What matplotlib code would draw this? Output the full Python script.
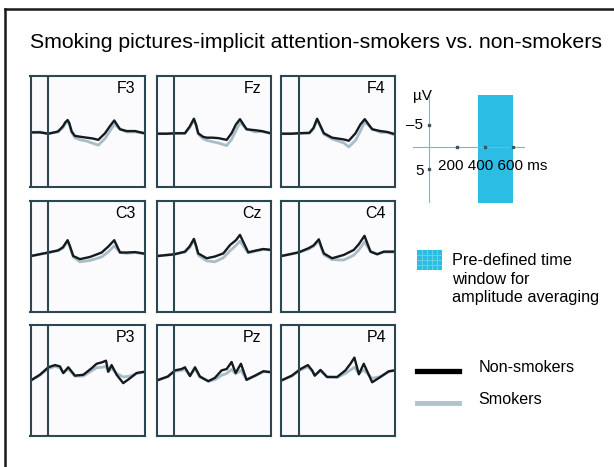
import matplotlib.pyplot as plt
from matplotlib.lines import Line2D
from matplotlib.patches import Rectangle

plt.rcParams['font.family'] = ['Liberation Sans', 'DejaVu Sans']

# ERP data, time in ms, amplitude in microvolts (negative plotted up)
f3_times = [-125, -60, 0, 70, 105, 122, 138, 150, 167, 190, 230, 275, 320, 357, 405, 440, 471, 512, 560, 620, 687]
f3_non = [-0.2, -0.2, 0.1, -0.4, -1.6, -2.5, -3.0, -2.3, -0.4, 0.6, 0.8, 1.0, 1.2, 1.5, 0.0, -1.6, -2.9, -0.9, -0.5, -0.5, 0.0]
f3_smk = [-0.2, -0.3, 0.1, -0.3, -1.3, -2.2, -2.7, -2.0, -0.2, 1.0, 1.5, 1.8, 2.3, 2.7, 1.2, -0.5, -2.0, -1.0, -0.3, -0.3, 0.0]

fz_times = [-125, -50, 0, 76, 110, 140, 155, 171, 205, 231, 270, 314, 374, 409, 440, 469, 516, 576, 624, 687]
fz_non = [0.1, 0.1, 0.0, 0.0, -1.5, -3.3, -2.0, 0.0, 0.8, 1.0, 1.0, 1.1, 1.5, 0.0, -2.0, -3.2, -0.9, -0.7, -0.5, 0.0]
fz_smk = [0.1, 0.1, 0.0, 0.0, -1.3, -3.0, -1.8, 0.2, 1.2, 1.6, 1.9, 2.2, 2.8, 1.4, -0.6, -2.4, -1.0, -0.3, -0.4, 0.0]

f4_times = [-125, -50, 0, 76, 105, 131, 150, 179, 238, 321, 357, 405, 440, 471, 524, 583, 631, 687]
f4_non = [0.1, 0.1, 0.0, -0.1, -1.2, -3.3, -2.0, 0.0, 1.0, 1.4, 1.7, 0.0, -2.0, -3.2, -0.9, -0.5, -0.3, 0.2]
f4_smk = [0.1, 0.1, 0.0, 0.0, -1.0, -3.0, -1.8, 0.2, 1.3, 2.2, 3.1, 1.6, -0.5, -2.6, -1.0, -0.2, -0.2, 0.4]

c3_times = [-125, 0, 71, 105, 138, 155, 178, 226, 298, 381, 430, 471, 512, 560, 619, 687]
c3_non = [0.4, -0.4, -0.9, -1.6, -3.2, -1.8, 0.4, 1.1, 0.6, -0.4, -1.8, -3.2, -0.4, -0.4, -0.5, -0.15]
c3_smk = [0.4, -0.4, -0.8, -1.4, -3.0, -1.6, 0.6, 1.7, 1.4, 0.6, -0.6, -1.9, -0.5, -0.2, -0.4, -0.1]

cz_times = [-125, 0, 76, 110, 140, 155, 171, 231, 290, 350, 398, 440, 469, 528, 576, 636, 687]
cz_non = [0.4, 0.0, -0.6, -1.8, -3.5, -2.0, -0.2, 0.9, 0.5, -0.2, -2.1, -3.2, -4.4, -0.45, -0.8, -1.2, -1.0]
cz_smk = [0.4, 0.0, -0.5, -1.5, -3.2, -1.8, 0.2, 1.5, 1.7, 0.8, -0.8, -2.0, -3.0, -0.3, -0.7, -1.1, -1.0]

c4_times = [-125, 0, 71, 105, 143, 160, 179, 238, 321, 393, 429, 469, 512, 560, 607, 687]
c4_non = [0.4, -0.45, -1.4, -2.0, -3.4, -1.8, -0.2, 0.9, 0.15, -1.0, -2.3, -4.2, -0.6, 0.0, -0.6, -0.6]
c4_smk = [0.4, -0.4, -1.2, -1.8, -3.0, -1.5, 0.1, 1.2, 1.3, 0.2, -1.0, -2.8, -0.7, -0.1, -0.5, -0.5]

p3_times = [-125, -60, 0, 48, 83, 107, 143, 190, 250, 310, 345, 381, 412, 428, 452, 488, 535, 583, 631, 687]
p3_non = [0.0, -1.3, -3.0, -3.5, -3.2, -1.7, -3.0, -1.1, -1.3, -2.8, -3.8, -4.1, -4.5, -2.0, -3.5, -1.3, 0.6, -0.5, -1.7, -2.0]
p3_smk = [0.0, -1.2, -2.7, -3.2, -2.9, -1.7, -2.6, -1.0, -1.0, -2.2, -2.9, -3.0, -3.2, -2.0, -2.8, -1.6, -0.8, -1.0, -1.6, -1.9]

pz_times = [-125, -46, 5, 52, 76, 112, 148, 183, 243, 290, 338, 374, 409, 438, 476, 516, 576, 636, 687]
pz_non = [0.0, -0.9, -2.3, -2.6, -3.0, -1.0, -3.0, -0.9, 0.15, -0.6, -2.3, -2.6, -4.2, -1.7, -3.8, -0.15, -1.1, -2.1, -1.9]
pz_smk = [0.0, -0.9, -2.1, -2.3, -2.5, -1.2, -2.6, -0.8, 0.2, -0.2, -1.2, -1.6, -2.5, -1.5, -2.3, -0.2, -1.0, -2.0, -1.9]

p4_times = [-125, -50, 12, 65, 95, 114, 155, 202, 274, 333, 369, 397, 429, 464, 524, 583, 643, 687]
p4_non = [0.0, -1.1, -2.6, -3.5, -2.3, -1.1, -2.4, -0.8, -0.8, -2.3, -3.8, -5.2, -1.4, -3.8, 0.4, -0.8, -2.1, -2.3]
p4_smk = [0.0, -1.0, -2.4, -3.1, -2.2, -1.2, -2.2, -0.8, -0.7, -1.6, -2.4, -3.0, -1.6, -2.4, -0.5, -0.9, -2.0, -2.3]

electrodes = [
    ['F3', 'Fz', 'F4'],
    ['C3', 'Cz', 'C4'],
    ['P3', 'Pz', 'P4'],
]
waves = {
    'F3': (f3_times, f3_non, f3_smk), 'Fz': (fz_times, fz_non, fz_smk), 'F4': (f4_times, f4_non, f4_smk),
    'C3': (c3_times, c3_non, c3_smk), 'Cz': (cz_times, cz_non, cz_smk), 'C4': (c4_times, c4_non, c4_smk),
    'P3': (p3_times, p3_non, p3_smk), 'Pz': (pz_times, pz_non, pz_smk), 'P4': (p4_times, p4_non, p4_smk),
}

scale_ticks_ms = [200, 400, 600]
scale_ticks_uv = [-5, 5]
window_ms = (350, 600)

W, H = 614, 467
frame_col = '#2c4652'
non_col = '#151a1f'
smk_col = '#a9bdc9'
win_col = '#2bbde3'

fig = plt.figure(figsize=(W / 100, H / 100), dpi=100)


def fig_box(x0, y0, x1, y1):
    # pixel box (top-left origin) -> figure fraction rect
    return [x0 / W, 1 - y1 / H, (x1 - x0) / W, (y1 - y0) / H]


col_x = [(30.5, 144.5), (156.5, 270.5), (281, 395)]
row_y = [(76, 187), (201, 312), (325, 436)]
# (bottom, top) in uV; axis is inverted so negative is up
row_ylim = [(12.2, -13.0), (13.1, -12.1), (12.6, -12.6)]

for r, row in enumerate(electrodes):
    for c, name in enumerate(row):
        x0, x1 = col_x[c]
        y0, y1 = row_y[r]
        ax = fig.add_axes(fig_box(x0, y0, x1, y1))
        ax.set_facecolor('#fbfbfd')
        t, non, smk = waves[name]
        ax.plot(t, smk, color=smk_col, lw=2.0, solid_joinstyle='round')
        ax.plot(t, non, color=non_col, lw=1.7, solid_joinstyle='round')
        ax.axvline(0, color=frame_col, lw=1.5)
        ax.set_xlim(-127, 687)
        ax.set_ylim(*row_ylim[r])
        ax.set_xticks([])
        ax.set_yticks([])
        for s in ax.spines.values():
            s.set_color(frame_col)
            s.set_linewidth(1.5)
        ax.text(0.92, 0.89, name, transform=ax.transAxes, ha='right', va='center', fontsize=11.5)

# calibration axes: time / amplitude scale with the averaging window
sax = fig.add_axes(fig_box(413, 93, 525, 203))
sax.set_xlim(-114, 686)
sax.set_ylim(12.7, -12.3)
sax.axis('off')
sax.add_patch(Rectangle((window_ms[0], -11.8), window_ms[1] - window_ms[0], 24.5, color=win_col, lw=0, zorder=1))
sax.axhline(0, color='#9aaab3', lw=0.8, zorder=2)
sax.axvline(0, color='#9aaab3', lw=0.8, zorder=2)
sax.plot(scale_ticks_ms, [0] * len(scale_ticks_ms), 's', color='#3b5560', ms=2, zorder=3)
sax.plot([0] * len(scale_ticks_uv), scale_ticks_uv, 's', color='#3b5560', ms=2, zorder=3)
sax.text(0.0, 0.97, '\u00b5V', transform=sax.transAxes, ha='left', va='center', fontsize=11)
sax.text(-40, -5, '\u20135', ha='right', va='center', fontsize=11)
sax.text(-40, 5.5, '5', ha='right', va='center', fontsize=11)
sax.text(64, 4.3, '200 400 600 ms', ha='left', va='center', fontsize=11)

# legend swatch for the time window, with its small grid
lax = fig.add_axes(fig_box(417, 250, 442, 270))
lax.set_facecolor(win_col)
lax.set_xlim(0, 5)
lax.set_ylim(0, 4)
for gx in [1, 2, 3, 4]:
    lax.axvline(gx, color='#6fd3ef', lw=0.6)
for gy in [1, 2, 3]:
    lax.axhline(gy, color='#6fd3ef', lw=0.6)
lax.set_xticks([])
lax.set_yticks([])
for s in lax.spines.values():
    s.set_visible(False)
fig.text(452 / W, 1 - 279 / H, 'Pre-defined time\nwindow for\namplitude averaging',
         ha='left', va='center', fontsize=11.7, linespacing=1.3)

# group legend
fig.add_artist(Line2D([417 / W, 459 / W], [1 - 371 / H, 1 - 371 / H], color='black', lw=3.8))
fig.add_artist(Line2D([417 / W, 459 / W], [1 - 403 / H, 1 - 403 / H], color='#b3c3cc', lw=3.5))
fig.text(479 / W, 1 - 368 / H, 'Non-smokers', ha='left', va='center', fontsize=11.6)
fig.text(478 / W, 1 - 400 / H, 'Smokers', ha='left', va='center', fontsize=11.6)

fig.text(30 / W, 1 - 43 / H, 'Smoking pictures-implicit attention-smokers vs. non-smokers',
         ha='left', va='center', fontsize=15.3)

# outer frame (left and top edges)
fig.add_artist(Line2D([5 / W, 5 / W], [0, 1 - 9 / H], color='#1a1a1a', lw=1.8))
fig.add_artist(Line2D([5 / W, 1], [1 - 9 / H, 1 - 9 / H], color='#1a1a1a', lw=1.8))

fig.savefig('out.png', dpi=100)
